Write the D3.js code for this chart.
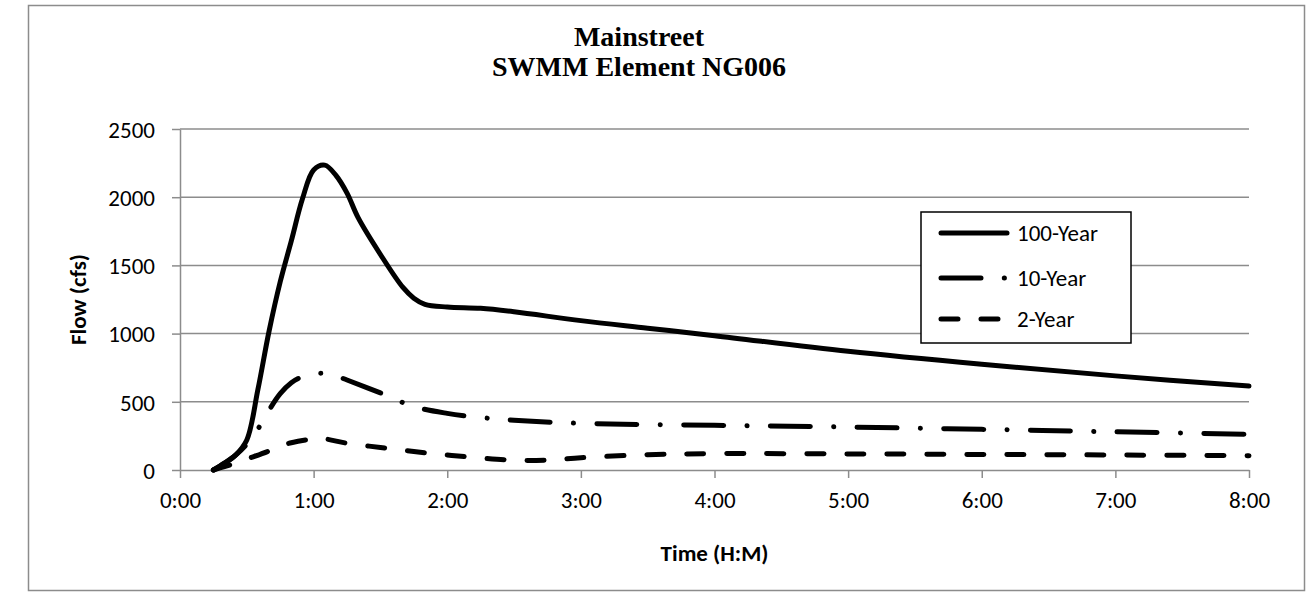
<!DOCTYPE html>
<html>
<head>
<meta charset="utf-8">
<script src="https://cdn.jsdelivr.net/npm/d3@7"></script>
<style>
  body { margin: 0; background: #fff; }
  svg { display: block; }
  .tick text { font-family: Carlito, Lato, sans-serif; font-size: 23px; fill: #000; }
  .axis-title { font-family: Carlito, Lato, sans-serif; font-size: 23px; font-weight: bold; }
  .title { font-family: "Palatino Linotype", "Book Antiqua", "Liberation Serif", serif; font-size: 28px; font-weight: bold; }
  .legend-text { font-family: Carlito, Lato, sans-serif; font-size: 23px; }
</style>
</head>
<body>
<div id="chart"></div>
<script>
// time in hours, flow in cfs
const hours100 = [0.25, 0.333, 0.417, 0.5, 0.583, 0.667, 0.75, 0.833, 0.917, 1.0, 1.083, 1.167, 1.25, 1.333, 1.5, 1.667, 1.75, 1.833, 2.0, 2.25, 2.5, 3.0, 3.5, 4.0, 5.0, 6.0, 7.0, 8.0]
const flow100 = [0, 50, 110, 220, 590, 1020, 1380, 1680, 1990, 2200, 2235, 2160, 2030, 1850, 1580, 1340, 1260, 1215, 1195, 1185, 1160, 1095, 1040, 985, 870, 775, 690, 615]

const hours10 = [0.25, 0.333, 0.417, 0.5, 0.583, 0.667, 0.75, 0.833, 0.917, 1.0, 1.083, 1.167, 1.25, 1.5, 1.75, 2.0, 2.25, 2.5, 3.0, 4.0, 5.0, 6.0, 7.0, 8.0]
const flow10 = [0, 50, 110, 190, 300, 440, 560, 640, 685, 705, 708, 690, 660, 565, 465, 415, 385, 365, 342, 328, 315, 298, 280, 262]

const hours2 = [0.25, 0.333, 0.417, 0.5, 0.667, 0.75, 0.833, 1.0, 1.083, 1.25, 1.5, 1.75, 2.0, 2.25, 2.5, 2.75, 3.0, 3.5, 4.0, 5.0, 6.0, 7.0, 8.0]
const flow2 = [0, 25, 50, 80, 140, 175, 200, 228, 228, 196, 165, 135, 110, 88, 72, 73, 90, 112, 120, 118, 114, 110, 105]

const xTicks = [0, 1, 2, 3, 4, 5, 6, 7, 8]
const yTicks = [0, 500, 1000, 1500, 2000, 2500]
const seriesNames = ['100-Year', '10-Year', '2-Year']
const dashes = [null, '40,23.3,0.1,23.3', '17,23']

const dms = {
  width: 1312,
  height: 593,
  margin: { top: 129, right: 63, bottom: 123, left: 180 }
}
dms.contentWidth = dms.width - dms.margin.left - dms.margin.right
dms.contentHeight = dms.height - dms.margin.top - dms.margin.bottom

const svg = d3.select('#chart').append('svg')
    .attr('width', dms.width)
    .attr('height', dms.height)

// outer chart border
svg.append('rect')
    .attr('x', 28.5)
    .attr('y', 5.5)
    .attr('width', 1276)
    .attr('height', 585)
    .attr('fill', '#fff')
    .attr('stroke', '#8c8c8c')
    .attr('stroke-width', 1.5)

const title = svg.append('text')
    .attr('class', 'title')
    .attr('text-anchor', 'middle')
title.append('tspan').attr('x', 639).attr('y', 46).text('Mainstreet')
title.append('tspan').attr('x', 639).attr('y', 76).text('SWMM Element NG006')

const content = svg.append('g')
    .attr('transform', `translate(${dms.margin.left},${dms.margin.top})`)

const xScale = d3.scaleLinear()
    .domain([0, 8])
    .range([0, dms.contentWidth])

const yScale = d3.scaleLinear()
    .domain([0, 2500])
    .range([dms.contentHeight, 0])

// gridlines
content.append('g')
    .selectAll('line')
    .data(yTicks.slice(1))
    .join('line')
    .attr('x1', 0)
    .attr('x2', dms.contentWidth)
    .attr('y1', d => yScale(d))
    .attr('y2', d => yScale(d))
    .attr('stroke', '#8c8c8c')
    .attr('stroke-width', 1.5)

const yAxis = content.append('g')
    .call(d3.axisLeft(yScale).tickValues(yTicks).tickSize(8).tickPadding(17).tickSizeOuter(0)
      .tickFormat(d3.format('d')))
const xAxis = content.append('g')
    .attr('transform', `translate(0,${dms.contentHeight})`)
    .call(d3.axisBottom(xScale).tickValues(xTicks).tickSize(8).tickPadding(14).tickSizeOuter(0)
      .tickFormat(d => d + ':00'))

;[xAxis, yAxis].forEach(a => {
  a.select('.domain').attr('stroke', '#8c8c8c').attr('stroke-width', 1.5)
  a.selectAll('.tick line').attr('stroke', '#8c8c8c').attr('stroke-width', 1.5)
  a.selectAll('.tick text').attr('font-family', null).attr('font-size', null)
})
yAxis.selectAll('.tick text').attr('dy', '0.36em')
xAxis.selectAll('.tick text').attr('dy', '0.71em')

content.append('text')
    .attr('class', 'axis-title')
    .attr('text-anchor', 'middle')
    .attr('transform', `translate(-94,${dms.contentHeight / 2}) rotate(-90)`)
    .text('Flow (cfs)')

content.append('text')
    .attr('class', 'axis-title')
    .attr('text-anchor', 'middle')
    .attr('x', dms.contentWidth / 2)
    .attr('y', dms.contentHeight + 91)
    .text('Time (H:M)')

const series = [
  d3.zip(hours100, flow100),
  d3.zip(hours10, flow10),
  d3.zip(hours2, flow2)
]

const line = d3.line()
    .x(d => xScale(d[0]))
    .y(d => yScale(d[1]))
    .curve(d3.curveCatmullRom.alpha(0.5))

content.append('g')
    .selectAll('path')
    .data(series)
    .join('path')
    .attr('d', line)
    .attr('fill', 'none')
    .attr('stroke', '#000')
    .attr('stroke-width', 5)
    .attr('stroke-linecap', 'round')
    .attr('stroke-linejoin', 'round')
    .attr('stroke-dasharray', (d, i) => dashes[i])

// legend
const legend = svg.append('g')
legend.append('rect')
    .attr('x', 921)
    .attr('y', 212)
    .attr('width', 210)
    .attr('height', 131)
    .attr('fill', '#fff')
    .attr('stroke', '#000')
    .attr('stroke-width', 1.5)

const rowY = [233, 278, 319]
const rows = legend.selectAll('g.row')
    .data(seriesNames)
    .join('g')
    .attr('class', 'row')
    .attr('transform', (d, i) => `translate(0,${rowY[i]})`)

rows.append('line')
    .attr('x1', 941)
    .attr('x2', 1007)
    .attr('stroke', '#000')
    .attr('stroke-width', 5)
    .attr('stroke-linecap', 'round')
    .attr('stroke-dasharray', (d, i) => dashes[i])

rows.append('text')
    .attr('class', 'legend-text')
    .attr('x', 1017)
    .attr('y', 8)
    .text(d => d)
</script>
</body>
</html>
